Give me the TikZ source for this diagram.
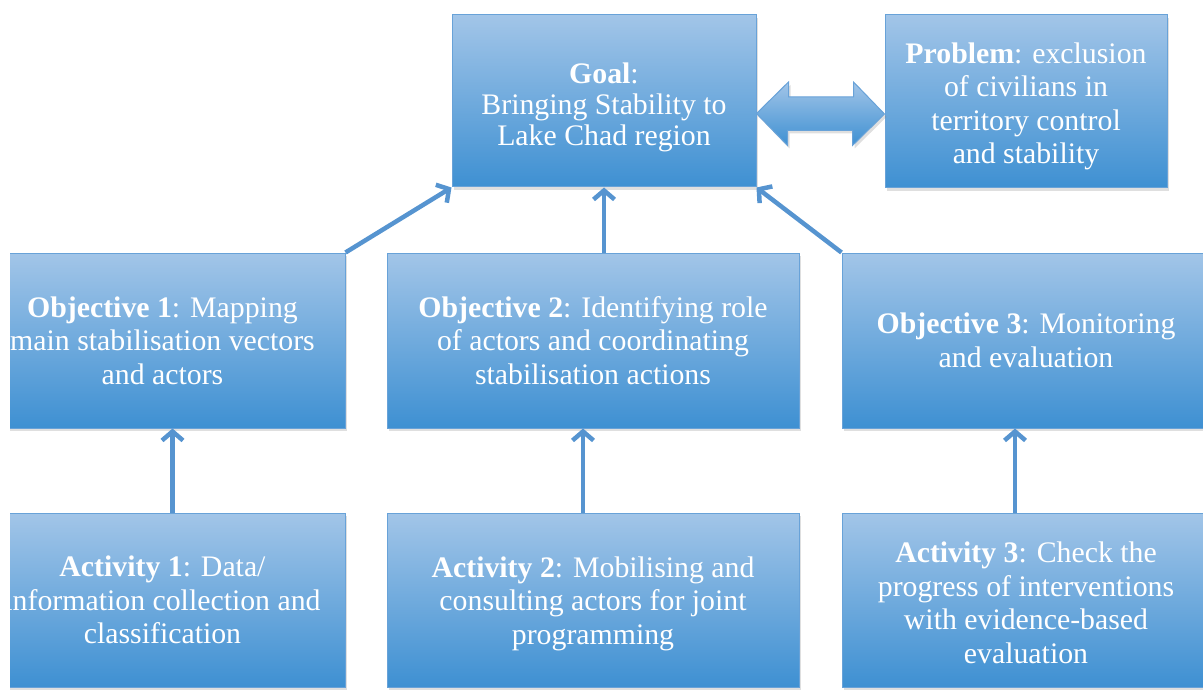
\documentclass[tikz,border=0pt]{standalone}
\usepackage{fontspec}
\setmainfont{Liberation Serif}
\usetikzlibrary{arrows.meta,shadows}
\definecolor{boxtop}{RGB}{162,197,232}
\definecolor{boxbottom}{RGB}{62,144,210}
\definecolor{boxedge}{RGB}{104,162,216}
\definecolor{linkblue}{RGB}{86,148,208}

\begin{document}
\begin{tikzpicture}[x=1pt,y=-1pt]
	\tikzstyle{every node}+=[inner sep=0pt]
	\tikzstyle{box}=[draw=boxedge, line width=1pt, top color=boxtop, bottom color=boxbottom, text=white, align=center, font=\fontsize{29.8}{33.5}\selectfont, drop shadow={shadow xshift=2pt, shadow yshift=-3pt, opacity=0.25}]
	\tikzstyle{link}=[draw=linkblue, line width=4.5pt, -{Straight Barb[length=9pt,width=21pt]}]
	\useasboundingbox (0,0) rectangle (1203,698);
	\clip (10,0) rectangle (1203,698);
	\node[box, minimum width=304pt, minimum height=172pt, font=\fontsize{29.8}{31}\selectfont] (goal) at (604,101) {\rule{0pt}{33pt}\textbf{Goal}:\\Bringing Stability to\\Lake Chad region};
	\node[box, minimum width=282pt, minimum height=173pt] (problem) at (1026,101.5) {\rule{0pt}{30pt}\textbf{Problem}: exclusion\\of civilians in\\territory control\\and stability};
	\node[box, minimum width=365pt, minimum height=175pt] (obj1) at (162.5,340.5) {\textbf{Objective 1}: Mapping\\main stabilisation vectors\\and actors};
	\node[box, minimum width=412pt, minimum height=175pt] (obj2) at (593,340.5) {\textbf{Objective 2}: Identifying role\\of actors and coordinating\\stabilisation actions};
	\node[box, minimum width=368pt, minimum height=175pt] (obj3) at (1026,340.5) {\textbf{Objective 3}: Monitoring\\and evaluation};
	\node[box, minimum width=365pt, minimum height=174pt] (act1) at (162.5,600) {\textbf{Activity 1}: Data/\\information collection and\\classification};
	\node[box, minimum width=412pt, minimum height=174pt] (act2) at (593,600) {\rule{0pt}{28pt}\textbf{Activity 2}: Mobilising and\\consulting actors for joint\\programming};
	\node[box, minimum width=368pt, minimum height=174pt] (act3) at (1026,600) {\rule{0pt}{26pt}\textbf{Activity 3}: Check the\\progress of interventions\\with evidence-based\\evaluation};
	\draw[link] (obj1.north east) -- (goal.south west);
	\draw[link] (obj2.north -| goal.south) -- (goal.south);
	\draw[link] (obj3.north west) -- (goal.south east);
	\draw[link] ([xshift=10pt]act1.north) -- ([xshift=10pt]act1.north |- obj1.south);
	\draw[link] ([xshift=-10pt]act2.north) -- ([xshift=-10pt]act2.north |- obj2.south);
	\draw[link] ([xshift=-11pt]act3.north) -- ([xshift=-11pt]act3.north |- obj3.south);
	\draw[draw=boxedge, line width=1pt, top color=boxtop, bottom color=boxbottom, drop shadow={shadow xshift=2pt, shadow yshift=-3pt, opacity=0.25}]
		([yshift=-12.5pt]goal.east) -- ++(32,-31.5) -- ++(0,15) -- ++(65,0) -- ++(0,-15) -- ([yshift=-12.5pt]problem.west)
		-- ++(-32,31.5) -- ++(0,-15) -- ++(-65,0) -- ++(0,15) -- cycle;
\end{tikzpicture}
\end{document}
